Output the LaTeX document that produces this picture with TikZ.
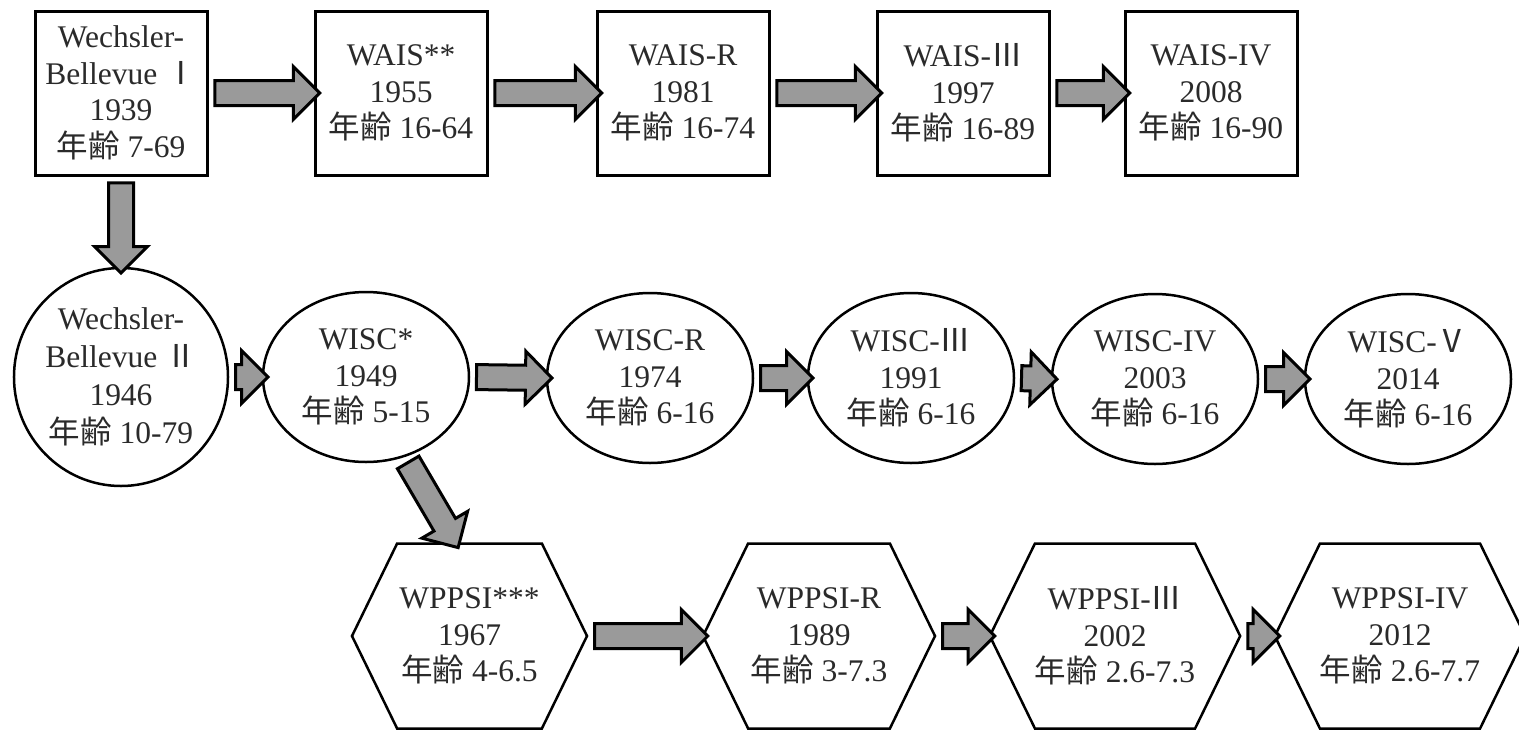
\documentclass[tikz,border=0pt]{standalone}
\usepackage{fontspec}
\setmainfont{Liberation Serif}
\newfontfamily\cjk{Noto Sans CJK JP}
\usetikzlibrary{shapes.geometric,shapes.arrows,shapes.symbols,calc}
\definecolor{arrowgray}{HTML}{9A9A9A}
\definecolor{txtcol}{HTML}{2A2A2A}
\newcommand\nenrei{{\cjk 年齢}}
\newcommand\romn[1]{{\cjk #1}}
\tikzset{
 txt/.style={font=\fontsize{31.5}{36.5}\selectfont, align=center, text=txtcol, inner sep=0pt},
 boxnode/.style={txt, draw, line width=3pt, minimum width=172pt, minimum height=164pt},
 ellnode/.style={txt, draw, ellipse, line width=2.5pt, minimum width=206pt, minimum height=170pt},
 hexnode/.style={txt, draw, signal, signal to=west and east, signal pointer angle=128, line width=2.5pt, minimum width=235pt, minimum height=185pt},
 fatarrow/.style={single arrow, draw=black, fill=arrowgray, line width=3pt, inner xsep=0pt, inner ysep=11pt, single arrow head extend=14pt, anchor=center},
 fat/.style={to path={let \p1=(\tikztostart), \p2=(\tikztotarget), \n1={veclen(\x2-\x1,\y2-\y1)} in (\tikztostart) -- (\tikztotarget) node[midway, sloped, allow upside down, fatarrow, minimum height=\n1]{}}}
}
\begin{document}
\begin{tikzpicture}[x=1pt,y=-1pt]
\useasboundingbox (0,0) rectangle (1519,729);
% top row
\node[boxnode] (wb1) at (121,93) {Wechsler-\\Bellevue \romn{Ⅰ}\\1939\\\nenrei\ 7-69};
\node[boxnode] (wais) at (401,93) {WAIS**\\1955\\\nenrei\ 16-64};
\node[boxnode] (waisr) at (683,93) {WAIS-R\\1981\\\nenrei\ 16-74};
\node[boxnode] (wais3) at (963,93) {WAIS-\romn{Ⅲ}\\1997\\\nenrei\ 16-89};
\node[boxnode] (wais4) at (1211,93) {WAIS-IV\\2008\\\nenrei\ 16-90};
% middle row
\node[ellnode, minimum width=212pt, minimum height=218pt, font=\fontsize{31.5}{38}\selectfont] (wb2) at (121,377) {Wechsler-\\Bellevue \romn{Ⅱ}\\1946\\\nenrei\ 10-79};
\node[ellnode] (wisc) at (366,377) {WISC*\\1949\\\nenrei\ 5-15};
\node[ellnode] (wiscr) at (650,378) {WISC-R\\1974\\\nenrei\ 6-16};
\node[ellnode] (wisc3) at (911,378) {WISC-\romn{Ⅲ}\\1991\\\nenrei\ 6-16};
\node[ellnode] (wisc4) at (1155,379) {WISC-IV\\2003\\\nenrei\ 6-16};
\node[ellnode] (wisc5) at (1408,379) {WISC-\romn{Ⅴ}\\2014\\\nenrei\ 6-16};
% bottom row
\node[hexnode] (wppsi) at (469.5,636) {WPPSI***\\1967\\\nenrei\ 4-6.5};
\node[hexnode, minimum width=232pt] (wppsir) at (819,636) {WPPSI-R\\1989\\\nenrei\ 3-7.3};
\node[hexnode] (wppsi3) at (1115,636) {WPPSI-\romn{Ⅲ}\\2002\\\nenrei\ 2.6-7.3};
\node[hexnode] (wppsi4) at (1400,636) {WPPSI-IV\\2012\\\nenrei\ 2.6-7.7};
\coordinate (dtip) at ([xshift=-14.5pt]wppsi.north);
% arrows
\path (wb1.east) to[fat] (wais.west);
\path (wais.east) to[fat] (waisr.west);
\path (waisr.east) to[fat] (wais3.west);
\path (wais3.east) to[fat] (wais4.west);
\path (wb1.south) to[fat] (wb2.north);
\path (wb2.east) to[fat] (wisc.west);
\path (wisc.east) to[fat] (wiscr.west);
\path (wiscr.east) to[fat] (wisc3.west);
\path (wisc3.east) to[fat] (wisc4.west);
\path (wisc4.east) to[fat] (wisc5.west);
\path (wisc.-64) to[fat] (dtip);
\path (wppsi.east) to[fat] (wppsir.west);
\path (wppsir.east) to[fat] (wppsi3.west);
\path (wppsi3.east) to[fat] (wppsi4.west);
\end{tikzpicture}
\end{document}
